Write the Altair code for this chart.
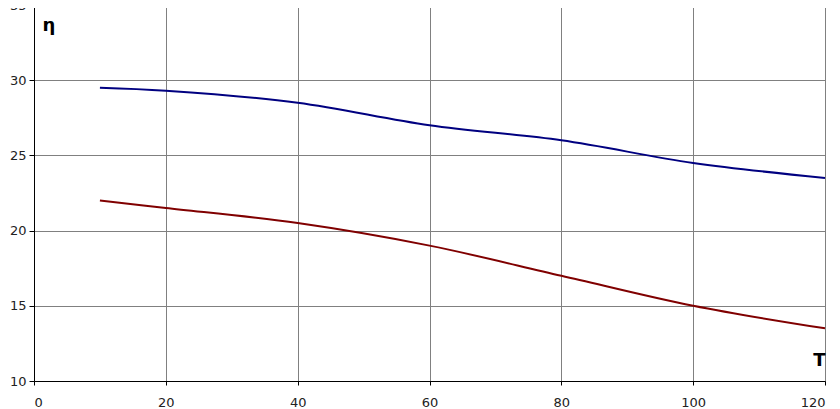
import altair as alt
import pandas as pd

t_vals = [10, 20, 40, 60, 80, 100, 120]
eta_blue = [29.5, 29.3, 28.5, 27.0, 26.0, 24.5, 23.5]
eta_red = [22.0, 21.5, 20.5, 19.0, 17.0, 15.0, 13.5]

df = pd.DataFrame({
    "T": t_vals * 2,
    "eta": eta_blue + eta_red,
    "series": ["a"] * len(t_vals) + ["b"] * len(t_vals),
})

labels = pd.DataFrame({"x": [1.3, 118.2], "y": [33.6, 11.3], "text": ["η", "T"]})

xs = alt.Scale(domain=[0, 120], nice=False)
ys = alt.Scale(domain=[10, 35], nice=False)

lines = alt.Chart(df).mark_line(interpolate="catmull-rom", strokeWidth=2).encode(
    x=alt.X("T:Q", scale=xs, axis=alt.Axis(values=list(range(0, 121, 20)), title=None,
                                            grid=True, gridColor="#808080", gridWidth=1,
                                            domainColor="black", tickColor="black", tickSize=4,
                                            labelFont="DejaVu Sans", labelFontSize=13,
                                            labelColor="#222222", labelPadding=11)),
    y=alt.Y("eta:Q", scale=ys, axis=alt.Axis(values=list(range(10, 36, 5)), title=None,
                                              grid=True, gridColor="#808080", gridWidth=1,
                                              domainColor="black", tickColor="black", tickSize=5,
                                              labelFont="DejaVu Sans", labelFontSize=13,
                                              labelColor="#222222", labelPadding=3)),
    color=alt.Color("series:N", scale=alt.Scale(domain=["a", "b"], range=["#000080", "#800000"]),
                    legend=None),
)

text = alt.Chart(labels).mark_text(font="DejaVu Sans", fontSize=18, fontWeight="bold",
                                   color="black", align="left", baseline="middle").encode(
    x=alt.X("x:Q", scale=xs), y=alt.Y("y:Q", scale=ys), text="text:N")

chart = (lines + text).properties(
    width=791, height=376,
    autosize=alt.AutoSizeParams(type="none"),
    padding={"left": 26, "top": -3, "right": 6, "bottom": 30},
).configure_view(stroke="#808080", strokeWidth=1)

chart.save("out.html", embed_options={"renderer": "svg", "actions": False})
